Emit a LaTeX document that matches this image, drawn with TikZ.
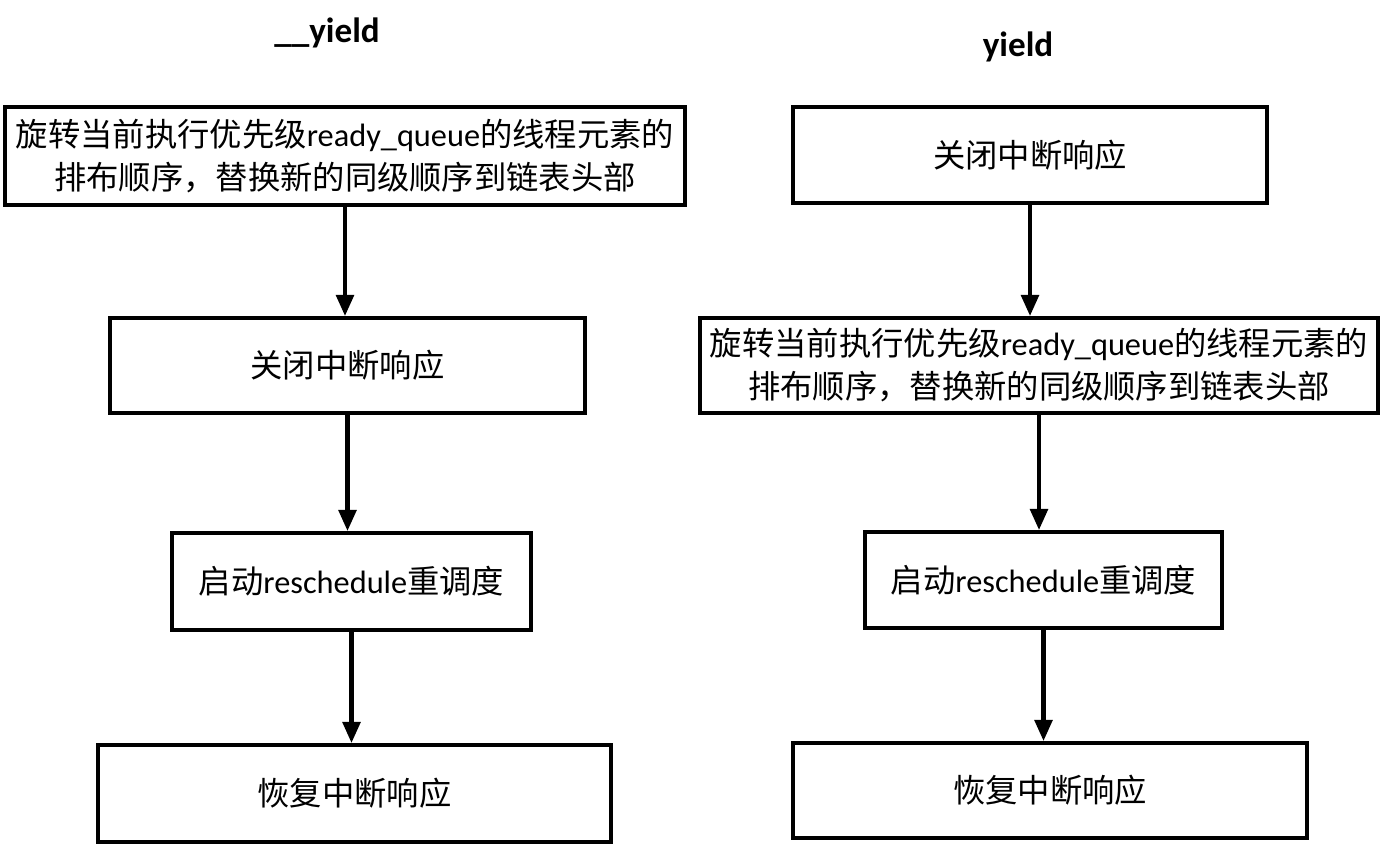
\documentclass[tikz,border=0pt]{standalone}
\usepackage{fontspec}
\setmainfont{Carlito}
\newfontfamily\cjk{Noto Sans CJK SC}
\usetikzlibrary{arrows.meta}

\begin{document}
\begin{tikzpicture}[x=0.02cm,y=-0.02cm,
  box/.style={draw,line width=2.3pt,align=center,inner sep=0pt,
    font=\fontsize{18.4}{24.5}\selectfont},
  flow/.style={line width=2.3pt,-{Triangle[length=12pt,width=10pt]}},
  title/.style={font=\fontsize{20}{24}\selectfont\bfseries}]
\useasboundingbox (0,0) rectangle (1385,845);

% __yield
\node[title] (tl) at (327,33) {\_\_yield};
\node[box,minimum width=13.6cm,minimum height=1.96cm] (l1) at (345,156)
  {{\cjk 旋转当前执行优先级}ready\_queue{\cjk 的线程元素的}\\{\cjk 排布顺序，替换新的同级顺序到链表头部}};
\node[box,minimum width=9.5cm,minimum height=1.9cm] (l2) at (347.5,365.5) {\cjk 关闭中断响应};
\node[box,minimum width=7.18cm,minimum height=1.94cm] (l3) at (351.5,581.5)
  {{\cjk 启动}reschedule{\cjk 重调度}};
\node[box,minimum width=10.26cm,minimum height=1.94cm] (l4) at (354.5,793.5) {\cjk 恢复中断响应};
\draw[flow] (l1.south) -- (l1.south |- l2.north);
\draw[flow] (l2.south) -- (l2.south |- l3.north);
\draw[flow] (l3.south) -- (l3.south |- l4.north);

% yield
\node[title] (tr) at (1018,47) {yield};
\node[box,minimum width=9.48cm,minimum height=1.92cm] (r1) at (1030,155) {\cjk 关闭中断响应};
\node[box,minimum width=13.56cm,minimum height=1.9cm] (r2) at (1039,365.5)
  {{\cjk 旋转当前执行优先级}ready\_queue{\cjk 的线程元素的}\\{\cjk 排布顺序，替换新的同级顺序到链表头部}};
\node[box,minimum width=7.14cm,minimum height=1.92cm] (r3) at (1043.5,580)
  {{\cjk 启动}reschedule{\cjk 重调度}};
\node[box,minimum width=10.28cm,minimum height=1.9cm] (r4) at (1050,790.5) {\cjk 恢复中断响应};
\draw[flow] (r1.south) -- (r1.south |- r2.north);
\draw[flow] (r2.south) -- (r2.south |- r3.north);
\draw[flow] (r3.south) -- (r3.south |- r4.north);
\end{tikzpicture}
\end{document}
